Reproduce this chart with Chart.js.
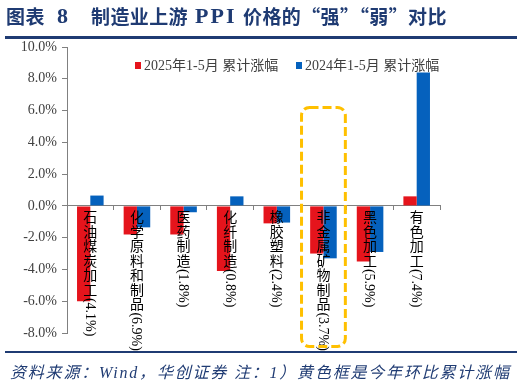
<!DOCTYPE html>
<html>
<head>
<meta charset="utf-8">
<script src="https://cdn.jsdelivr.net/npm/chart.js@4"></script>
<style>
  html, body { margin: 0; padding: 0; background: #fff; }
  #wrap { position: relative; width: 524px; height: 383px; overflow: hidden; }
  #salesChart { position: absolute; left: 0; top: 0; }
  .t {
    position: absolute; top: 6px; line-height: 20px; white-space: nowrap; color: #1F3B73; font-weight: bold;
  }
  .cjk { font-family: "Noto Sans CJK SC", sans-serif; font-size: 19px; letter-spacing: 0.4px; }
  .lat { font-family: "Liberation Serif", serif; font-size: 22px; }
  .rule { position: absolute; left: 5px; width: 512px; background: #1F3B73; }
  .footer {
    position: absolute; left: 10px; top: 359px; line-height: 20px; white-space: nowrap; letter-spacing: 1.8px;
    font: italic 16px "Liberation Serif", "Noto Sans CJK SC", serif; color: #1F3B73;
  }
  .legend {
    position: absolute; top: 54px; white-space: nowrap;
    font: 14px "Liberation Serif", "Noto Sans CJK SC", serif; color: #404040;
  }
  .legend i { display: inline-block; width: 6px; height: 7px; margin-right: 3px; vertical-align: 1px; }
</style>
</head>
<body>
<div id="wrap">
  <canvas id="salesChart" width="524" height="383"></canvas>
  <div class="t cjk" style="left:6px;">图表</div>
  <div class="t lat" style="left:57px;">8</div>
  <div class="t cjk" style="left:91px;">制造业上游</div>
  <div class="t lat" style="left:195px;letter-spacing:2px;">PPI</div>
  <div class="t cjk" style="left:243px;">价格的“强”“弱”对比</div>
  <div class="rule" style="top:36px;height:3px;"></div>
  <div class="legend" style="left:135px;"><i style="background:#E5141C"></i>2025年1-5月 累计涨幅</div>
  <div class="legend" style="left:296px;"><i style="background:#0561BD"></i>2024年1-5月 累计涨幅</div>
  <div class="rule" style="top:351px;height:2px;"></div>
  <div class="footer">资料来源：Wind，华创证券 注：1）黄色框是今年环比累计涨幅</div>
</div>
<script>
const categories = ['石油煤炭加工(4.1%)', '化学原料和制品(6.9%)', '医药制造(1.8%)', '化纤制造(0.8%)',
                    '橡胶塑料(2.4%)', '非金属矿物制品(3.7%)', '黑色加工(5.9%)', '有色加工(7.4%)'];
const growth2025 = [-6.0, -1.8, -1.8, -4.1, -1.1, -3.0, -3.5, 0.6];
const growth2024 = [0.65, -1.35, -0.4, 0.6, -1.05, -3.3, -2.9, 8.4];
const yTicks = [-8, -6, -4, -2, 0, 2, 4, 6, 8, 10];

const highlightIndex = 5; // 非金属矿物制品 gets the yellow frame
const labelFont = '14px "Liberation Serif", "Noto Sans CJK SC", serif';

// Write a category name top-to-bottom: CJK upright, latin runs turned 90deg
function drawVertical(ctx, text, cx, top) {
    let y = top;
    let i = 0;
    while (i < text.length) {
        const ch = text[i];
        if (ch.charCodeAt(0) > 0x2E80) {
            ctx.textAlign = 'center';
            ctx.textBaseline = 'middle';
            ctx.fillText(ch, cx, y + 7.5);
            y += 14.5;
            i++;
        } else {
            let run = '';
            while (i < text.length && text.charCodeAt(i) <= 0x2E80) run += text[i++];
            const w = ctx.measureText(run).width;
            ctx.save();
            ctx.translate(cx, y);
            ctx.rotate(Math.PI / 2);
            ctx.textAlign = 'left';
            ctx.textBaseline = 'middle';
            ctx.fillText(run, 0, 1);
            ctx.restore();
            y += w;
        }
    }
}

const verticalLabels = {
    id: 'verticalLabels',
    afterDatasetsDraw(chart) {
        const { ctx, scales: { x, y } } = chart;
        ctx.save();
        ctx.font = labelFont;
        ctx.fillStyle = '#000';
        const top = y.getPixelForValue(0) + 5;
        categories.forEach((name, i) => drawVertical(ctx, name, x.getPixelForValue(i), top));
        ctx.restore();
    }
};

const highlightBox = {
    id: 'highlightBox',
    afterDraw(chart) {
        const { ctx, scales: { x, y } } = chart;
        const cw = x.getPixelForValue(1) - x.getPixelForValue(0);
        const left = x.getPixelForValue(highlightIndex) - cw * 0.47;
        const right = x.getPixelForValue(highlightIndex) + cw * 0.47;
        const top = y.getPixelForValue(6.2);
        const bottom = y.getPixelForValue(-8.85);
        ctx.save();
        ctx.strokeStyle = '#FFC000';
        ctx.lineWidth = 3;
        ctx.setLineDash([9, 4]);
        ctx.beginPath();
        ctx.roundRect(left, top, right - left, bottom - top, 8);
        ctx.stroke();
        ctx.restore();
    }
};

function initChart() {
    const ctx = document.getElementById('salesChart').getContext('2d');

    const data = {
        labels: categories,
        datasets: [{
            label: '2025年1-5月 累计涨幅',
            data: growth2025,
            backgroundColor: '#E5141C'
        }, {
            label: '2024年1-5月 累计涨幅',
            data: growth2024,
            backgroundColor: '#0561BD'
        }]
    };

    new Chart(ctx, {
        type: 'bar',
        data: data,
        options: {
            responsive: false,
            devicePixelRatio: 1,
            animation: false,
            categoryPercentage: 0.57,
            barPercentage: 1.0,
            layout: { padding: { top: 47, right: 84, bottom: 50, left: 0 } },
            plugins: {
                legend: { display: false },
                tooltip: { enabled: false }
            },
            scales: {
                x: {
                    position: { y: 0 },
                    ticks: { display: false },
                    grid: { drawOnChartArea: false, drawTicks: true, tickLength: 4, color: '#808080' },
                    border: { color: '#808080' }
                },
                y: {
                    min: -8,
                    max: 10,
                    afterBuildTicks: (scale) => { scale.ticks = yTicks.map(v => ({ value: v })); },
                    afterFit: (scale) => { scale.width = 67; },
                    ticks: {
                        callback: (v) => v.toFixed(1) + '%',
                        color: '#404040',
                        padding: 5,
                        font: { family: '"Liberation Serif", serif', size: 14 }
                    },
                    grid: { drawOnChartArea: false, drawTicks: true, tickLength: 5, color: '#808080' },
                    border: { color: '#808080' }
                }
            }
        },
        plugins: [verticalLabels, highlightBox]
    });
}

document.addEventListener('DOMContentLoaded', initChart);
</script>
</body>
</html>
